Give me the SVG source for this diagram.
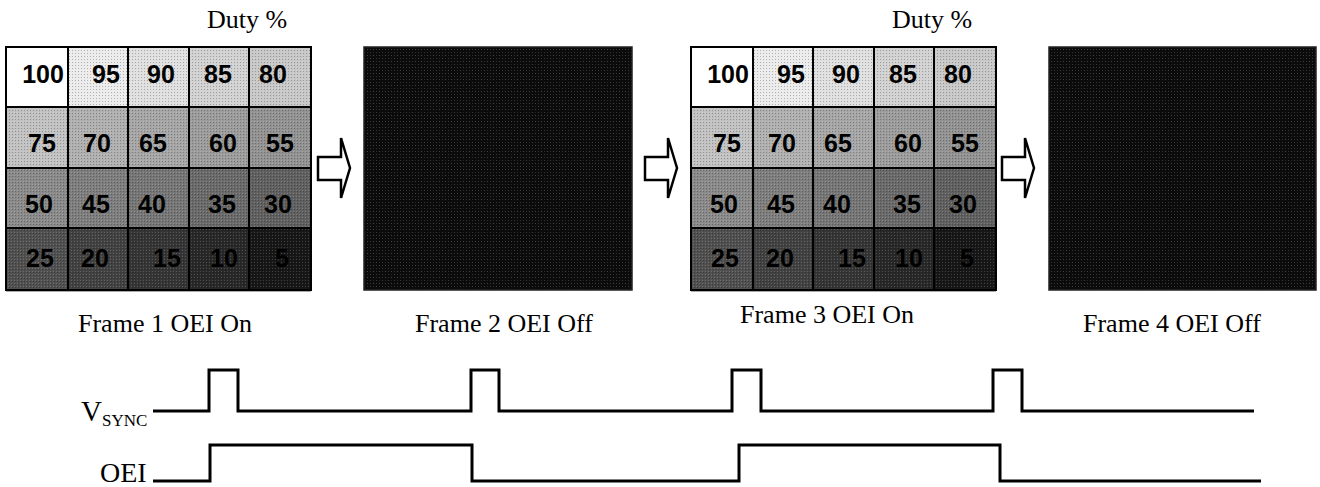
<svg xmlns="http://www.w3.org/2000/svg" width="1320" height="487" viewBox="0 0 1320 487">
<style>
.lbl{font-family:"Liberation Serif","Times New Roman",serif;fill:#000}
.num{font-family:"Liberation Sans",Arial,sans-serif;font-weight:bold;font-size:25px;fill:#000;text-anchor:middle}
.gl{stroke:#000;stroke-width:2;fill:none}
.wave{stroke:#000;stroke-width:3;fill:none;stroke-linejoin:miter}
.arrow{fill:#fff;stroke:#000;stroke-width:2.5;stroke-linejoin:miter}
</style>
<defs>
<pattern id="tex" width="3" height="3" patternUnits="userSpaceOnUse">
<rect x="0" y="0" width="1" height="1" fill="#000" fill-opacity="0.25"/>
<rect x="2" y="2" width="1" height="1" fill="#fff" fill-opacity="0.18"/>
</pattern>
<pattern id="dark" width="6" height="6" patternUnits="userSpaceOnUse">
<rect width="6" height="6" fill="#0b0b0b"/>
<rect x="1" y="1" width="1" height="1" fill="#444"/>
<rect x="4" y="1" width="1" height="1" fill="#333"/>
<rect x="1" y="4" width="1" height="1" fill="#2a2a2a"/>
<rect x="4" y="4" width="1" height="1" fill="#3a3a3a"/>
</pattern>
</defs>
<rect width="1320" height="487" fill="#fff"/>

<g id="duty-label-1"><text class="lbl" x="207" y="28" font-size="26">Duty %</text></g>
<g id="duty-label-3"><text class="lbl" x="892" y="28" font-size="26">Duty %</text></g>

<g id="frame1" transform="translate(6,47)">
<rect x="0" y="0" width="62" height="60" fill="#ffffff"/>
<rect x="62" y="0" width="60" height="60" fill="#ececec"/>
<rect x="122" y="0" width="61" height="60" fill="#e0e0e0"/>
<rect x="183" y="0" width="60" height="60" fill="#d2d2d2"/>
<rect x="243" y="0" width="62" height="60" fill="#c8c8c8"/>
<rect x="0" y="60" width="62" height="61" fill="#c2c2c2"/>
<rect x="62" y="60" width="60" height="61" fill="#b0b0b0"/>
<rect x="122" y="60" width="61" height="61" fill="#a6a6a6"/>
<rect x="183" y="60" width="60" height="61" fill="#9c9c9c"/>
<rect x="243" y="60" width="62" height="61" fill="#929292"/>
<rect x="0" y="121" width="62" height="60" fill="#8a8a8a"/>
<rect x="62" y="121" width="60" height="60" fill="#7e7e7e"/>
<rect x="122" y="121" width="61" height="60" fill="#767676"/>
<rect x="183" y="121" width="60" height="60" fill="#6a6a6a"/>
<rect x="243" y="121" width="62" height="60" fill="#606060"/>
<rect x="0" y="181" width="62" height="62" fill="#505050"/>
<rect x="62" y="181" width="60" height="62" fill="#424242"/>
<rect x="122" y="181" width="61" height="62" fill="#353535"/>
<rect x="183" y="181" width="60" height="62" fill="#282828"/>
<rect x="243" y="181" width="62" height="62" fill="#171717"/>
<rect x="62" y="0" width="243" height="243" fill="url(#tex)"/>
<rect x="0" y="60" width="62" height="183" fill="url(#tex)"/>
<text class="num" x="37" y="36">100</text>
<text class="num" x="100" y="36">95</text>
<text class="num" x="155" y="36">90</text>
<text class="num" x="212" y="36">85</text>
<text class="num" x="267" y="36">80</text>
<text class="num" x="36" y="105">75</text>
<text class="num" x="91" y="105">70</text>
<text class="num" x="147" y="105">65</text>
<text class="num" x="217" y="105">60</text>
<text class="num" x="274" y="105">55</text>
<text class="num" x="33" y="166">50</text>
<text class="num" x="90" y="166">45</text>
<text class="num" x="146" y="166">40</text>
<text class="num" x="216" y="166">35</text>
<text class="num" x="272" y="166">30</text>
<text class="num" x="34" y="220">25</text>
<text class="num" x="89" y="220">20</text>
<text class="num" x="161" y="220">15</text>
<text class="num" x="218" y="220">10</text>
<text class="num" x="276" y="220">5</text>
<path class="gl" d="M62,0V243M122,0V243M183,0V243M243,0V243M0,60H305M0,121H305M0,181H305"/>
<rect class="gl" x="0" y="0" width="305" height="243"/>
<line x1="0" y1="244.5" x2="305" y2="244.5" stroke="#aaa" stroke-width="1"/>
</g>

<g id="frame2">
<rect x="364" y="47" width="268" height="243" fill="url(#dark)" stroke="#222" stroke-width="1.5"/>
</g>

<g id="frame3" transform="translate(691,47)">
<rect x="0" y="0" width="62" height="60" fill="#ffffff"/>
<rect x="62" y="0" width="60" height="60" fill="#ececec"/>
<rect x="122" y="0" width="61" height="60" fill="#e0e0e0"/>
<rect x="183" y="0" width="60" height="60" fill="#d2d2d2"/>
<rect x="243" y="0" width="62" height="60" fill="#c8c8c8"/>
<rect x="0" y="60" width="62" height="61" fill="#c2c2c2"/>
<rect x="62" y="60" width="60" height="61" fill="#b0b0b0"/>
<rect x="122" y="60" width="61" height="61" fill="#a6a6a6"/>
<rect x="183" y="60" width="60" height="61" fill="#9c9c9c"/>
<rect x="243" y="60" width="62" height="61" fill="#929292"/>
<rect x="0" y="121" width="62" height="60" fill="#8a8a8a"/>
<rect x="62" y="121" width="60" height="60" fill="#7e7e7e"/>
<rect x="122" y="121" width="61" height="60" fill="#767676"/>
<rect x="183" y="121" width="60" height="60" fill="#6a6a6a"/>
<rect x="243" y="121" width="62" height="60" fill="#606060"/>
<rect x="0" y="181" width="62" height="62" fill="#505050"/>
<rect x="62" y="181" width="60" height="62" fill="#424242"/>
<rect x="122" y="181" width="61" height="62" fill="#353535"/>
<rect x="183" y="181" width="60" height="62" fill="#282828"/>
<rect x="243" y="181" width="62" height="62" fill="#171717"/>
<rect x="62" y="0" width="243" height="243" fill="url(#tex)"/>
<rect x="0" y="60" width="62" height="183" fill="url(#tex)"/>
<text class="num" x="37" y="36">100</text>
<text class="num" x="100" y="36">95</text>
<text class="num" x="155" y="36">90</text>
<text class="num" x="212" y="36">85</text>
<text class="num" x="267" y="36">80</text>
<text class="num" x="36" y="105">75</text>
<text class="num" x="91" y="105">70</text>
<text class="num" x="147" y="105">65</text>
<text class="num" x="217" y="105">60</text>
<text class="num" x="274" y="105">55</text>
<text class="num" x="33" y="166">50</text>
<text class="num" x="90" y="166">45</text>
<text class="num" x="146" y="166">40</text>
<text class="num" x="216" y="166">35</text>
<text class="num" x="272" y="166">30</text>
<text class="num" x="34" y="220">25</text>
<text class="num" x="89" y="220">20</text>
<text class="num" x="161" y="220">15</text>
<text class="num" x="218" y="220">10</text>
<text class="num" x="276" y="220">5</text>
<path class="gl" d="M62,0V243M122,0V243M183,0V243M243,0V243M0,60H305M0,121H305M0,181H305"/>
<rect class="gl" x="0" y="0" width="305" height="243"/>
<line x1="0" y1="244.5" x2="305" y2="244.5" stroke="#aaa" stroke-width="1"/>
</g>

<g id="frame4">
<rect x="1049" y="47" width="267" height="243" fill="url(#dark)" stroke="#222" stroke-width="1.5"/>
</g>

<g id="connectors">
<path class="arrow" d="M318,157H341V138L350,168L341,198V180H318Z"/>
<path class="arrow" d="M645,157H668V138L677,168L668,198V180H645Z"/>
<path class="arrow" d="M1002,157H1025V138L1034,168L1025,198V180H1002Z"/>
</g>

<g id="frame-labels">
<text class="lbl" x="78" y="332" font-size="26">Frame 1 OEI On</text>
<text class="lbl" x="415" y="332" font-size="26">Frame 2 OEI Off</text>
<text class="lbl" x="740" y="323" font-size="26">Frame 3 OEI On</text>
<text class="lbl" x="1083" y="332" font-size="26">Frame 4 OEI Off</text>
</g>

<g id="vsync">
<text class="lbl" x="81" y="421" font-size="29">V<tspan font-size="17" dy="5">SYNC</tspan></text>
<path class="wave" d="M153,411H209V370H238V411H471V370H499V411H732V370H761V411H993V370H1022V411H1254"/>
</g>

<g id="oei">
<text class="lbl" x="100" y="482" font-size="28">OEI</text>
<path class="wave" d="M153,481H210V445H472V481H739V445H1000V481H1261"/>
</g>
</svg>
